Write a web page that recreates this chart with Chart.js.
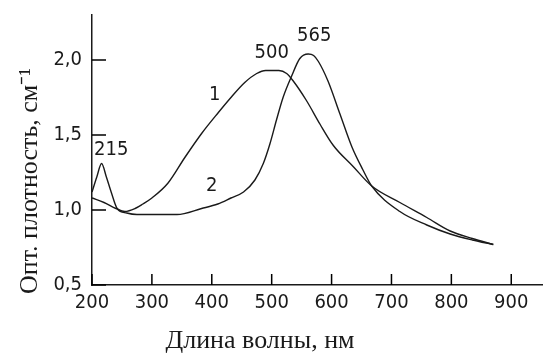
<!DOCTYPE html>
<html>
<head>
<meta charset="utf-8">
<script src="https://cdn.jsdelivr.net/npm/chart.js@4"></script>
<style>
  html, body { margin: 0; padding: 0; background: #fff; }
  canvas { display: block; }
</style>
</head>
<body>
<canvas id="spectrumChart" width="543" height="354"></canvas>
<script>
// curve 1 - broad band at 500 nm
const waveLen1 = [200, 220, 240, 255, 272, 285, 300, 327, 355, 383, 411, 432, 455, 475, 490, 512, 525, 536, 558, 581, 603, 636, 667, 714, 759, 798, 835, 870];
const density1 = [1.08, 1.05, 1.01, 0.99, 1.01, 1.04, 1.08, 1.18, 1.35, 1.51, 1.65, 1.75, 1.85, 1.91, 1.93, 1.93, 1.91, 1.86, 1.73, 1.57, 1.43, 1.29, 1.16, 1.05, 0.95, 0.86, 0.81, 0.77];

// curve 2 - peaks at 215 and 565 nm
const waveLen2 = [200, 208, 216, 224, 232, 242, 258, 275, 342, 383, 410, 432, 453, 472, 486, 497, 508, 519, 533, 547, 561, 570, 578, 594, 614, 634, 652, 667, 714, 759, 798, 835, 870];
const density2 = [1.12, 1.22, 1.31, 1.22, 1.12, 1.01, 0.98, 0.97, 0.97, 1.01, 1.04, 1.08, 1.12, 1.20, 1.31, 1.44, 1.60, 1.75, 1.89, 2.01, 2.04, 2.03, 1.99, 1.86, 1.64, 1.42, 1.27, 1.16, 0.99, 0.90, 0.84, 0.80, 0.77];

const xTicks = [200, 300, 400, 500, 600, 700, 800, 900];
const yTicks = [0.5, 1.0, 1.5, 2.0];

// text marks on the plot: [text, nm, density]
const markLabels = [
  ['215', 232, 1.40],
  ['500', 500, 2.05],
  ['565', 571, 2.16],
  ['1', 405, 1.77],
  ['2', 400, 1.16]
];

const ink = '#1a1a1a';
const tickFont = "'Liberation Sans Narrow', 'DejaVu Sans Condensed', sans-serif";
const titleFont = "'Liberation Serif', 'Times New Roman', serif";

function toPoints(xs, ys) {
  return xs.map((x, i) => ({ x: x, y: ys[i] }));
}

// inward tick marks, curve labels and axis titles
const decorPlugin = {
  id: 'decor',
  afterDraw(chart) {
    const ctx = chart.ctx;
    const xs = chart.scales.x;
    const ys = chart.scales.y;
    const area = chart.chartArea;
    ctx.save();
    ctx.strokeStyle = '#000';
    ctx.lineWidth = 1.5;
    ctx.beginPath();
    yTicks.forEach(v => {
      const py = ys.getPixelForValue(v);
      ctx.moveTo(area.left, py);
      ctx.lineTo(area.left + 14, py);
    });
    xTicks.forEach(v => {
      const px = xs.getPixelForValue(v);
      ctx.moveTo(px, area.bottom);
      ctx.lineTo(px, area.bottom - 11);
    });
    ctx.stroke();

    ctx.fillStyle = ink;
    ctx.textAlign = 'center';
    ctx.textBaseline = 'middle';
    ctx.font = '20px ' + tickFont;
    markLabels.forEach(m => {
      ctx.fillText(m[0], xs.getPixelForValue(m[1]), ys.getPixelForValue(m[2]));
    });

    ctx.font = '26px ' + titleFont;
    ctx.fillText('Длина волны, нм', 260, 341);

    ctx.textBaseline = 'alphabetic';
    ctx.translate(37, 181);
    ctx.rotate(-Math.PI / 2);
    ctx.fillText('Опт. плотность, см⁻¹', 0, 0);
    ctx.restore();
  }
};

const lineStyle = {
  borderColor: ink,
  borderWidth: 1.4,
  pointRadius: 0,
  fill: false,
  cubicInterpolationMode: 'monotone'
};

new Chart(document.getElementById('spectrumChart').getContext('2d'), {
  type: 'line',
  data: {
    datasets: [
      Object.assign({ label: '1', data: toPoints(waveLen1, density1) }, lineStyle),
      Object.assign({ label: '2', data: toPoints(waveLen2, density2) }, lineStyle)
    ]
  },
  options: {
    responsive: false,
    animation: false,
    devicePixelRatio: 1,
    layout: { padding: { top: 15, right: 0, left: 0, bottom: 0 } },
    plugins: {
      legend: { display: false },
      tooltip: { enabled: false }
    },
    scales: {
      x: {
        type: 'linear',
        min: 200,
        max: 953,
        afterBuildTicks: s => { s.ticks = xTicks.map(v => ({ value: v })); },
        afterFit: s => { s.height = 69; s.paddingLeft = 0; s.paddingRight = 0; },
        border: { display: true, color: ink, width: 1.5 },
        grid: { display: true, drawOnChartArea: false, drawTicks: false },
        ticks: {
          color: ink,
          padding: 6,
          maxRotation: 0,
          autoSkip: false,
          font: { family: tickFont, size: 20 }
        }
      },
      y: {
        type: 'linear',
        min: 0.5,
        max: 2.3,
        afterBuildTicks: s => { s.ticks = yTicks.map(v => ({ value: v })); },
        afterFit: s => { s.width = 92; s.paddingTop = 0; s.paddingBottom = 0; },
        border: { display: true, color: ink, width: 1.5 },
        grid: { display: true, drawOnChartArea: false, drawTicks: false },
        ticks: {
          color: ink,
          padding: 10,
          autoSkip: false,
          font: { family: tickFont, size: 20 },
          callback: v => v.toFixed(1).replace('.', ',')
        }
      }
    }
  },
  plugins: [decorPlugin]
});
</script>
</body>
</html>
